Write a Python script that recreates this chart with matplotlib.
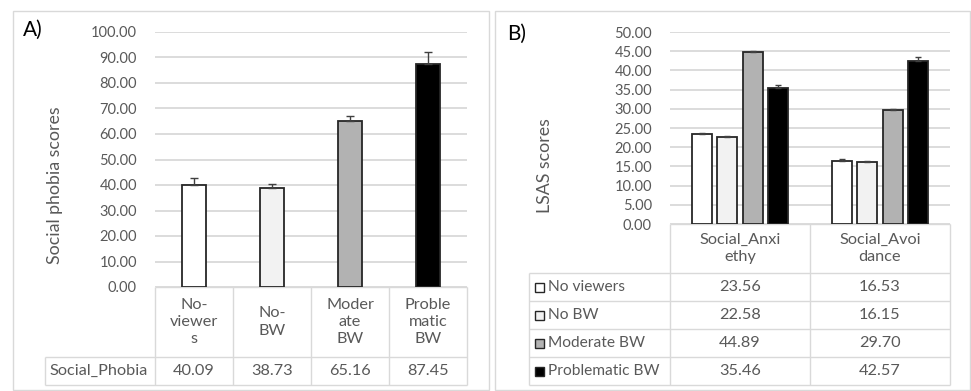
import matplotlib.pyplot as plt
from matplotlib.patches import Rectangle
import numpy as np

plt.rcParams['font.family'] = ['Lato', 'DejaVu Sans']

# Panel A: social phobia scores per viewing group
groups_a = ['No-\nviewer\ns', 'No-\nBW', 'Moder\nate\nBW', 'Proble\nmatic\nBW']
social_phobia = [40.09, 38.73, 65.16, 87.45]
social_phobia_err = [2.8, 1.7, 1.8, 4.7]

# Panel B: LSAS subscales per viewing group
subscales = ['Social_Anxi\nethy', 'Social_Avoi\ndance']
series_b = ['No viewers', 'No BW', 'Moderate BW', 'Problematic BW']
lsas_anxiety = [23.56, 22.58, 44.89, 35.46]
lsas_avoidance = [16.53, 16.15, 29.70, 42.57]
lsas_anxiety_err = [0.25, 0.25, 0.25, 0.75]
lsas_avoidance_err = [0.3, 0.2, 0.3, 0.85]

fills = ['#ffffff', '#f2f2f2', '#b2b2b2', '#000000']
edge = '#262626'
grid_c = '#d9d9d9'
text_c = '#595959'
fs = 10.5      # axis tick labels
fs_tab = 11.7  # data table text

W, H = 971, 391
fig = plt.figure(figsize=(W / 100, H / 100), dpi=100)

# overlay in pixel coords for frames and data tables
ov = fig.add_axes([0, 0, 1, 1])
ov.set_xlim(0, W)
ov.set_ylim(H, 0)
ov.axis('off')
ov.patch.set_visible(False)


def px_axes(l, t, r, b):
    return fig.add_axes([l / W, 1 - b / H, (r - l) / W, (b - t) / H])


def style(ax, ymax, step):
    ax.set_ylim(0, ymax)
    ax.set_yticks(np.arange(0, ymax + 0.01, step))
    ax.set_yticklabels([f'{v:.2f}' for v in ax.get_yticks()])
    ax.tick_params(axis='y', length=0, pad=13, labelsize=fs, labelcolor=text_c)
    ax.tick_params(axis='x', length=0, labelbottom=False)
    ax.grid(axis='y', color=grid_c, lw=1.3)
    ax.set_axisbelow(True)
    for s in ax.spines.values():
        s.set_visible(False)
    ax.patch.set_visible(False)


# panel frames
ov.add_patch(Rectangle((13, 11), 476, 379, fill=False, ec=grid_c, lw=1))
ov.add_patch(Rectangle((495, 11), 475, 379, fill=False, ec=grid_c, lw=1))

# ---- A ----
A_l, A_t, A_r, A_b = 155, 32, 467, 287
ax_a = px_axes(A_l, A_t, A_r, A_b)
xa = np.arange(len(groups_a))
ax_a.bar(xa, social_phobia, width=0.31, color=fills, edgecolor=edge, lw=1.3, zorder=3)
ax_a.errorbar(xa, social_phobia, yerr=[np.zeros(4), social_phobia_err], fmt='none',
              ecolor='#404040', elinewidth=1, capsize=3, capthick=1, zorder=4)
ax_a.set_xlim(-0.5, len(groups_a) - 0.5)
style(ax_a, 100, 10)

cols_a = np.linspace(A_l, A_r, len(groups_a) + 1)
ov.hlines(A_b, A_l, A_r, color=grid_c, lw=1)
ov.hlines([357, 385], 45, A_r, color=grid_c, lw=1)
ov.vlines(cols_a, A_b, 385, color=grid_c, lw=1)
ov.vlines(45, 357, 385, color=grid_c, lw=1)
for i, lab in enumerate(groups_a):
    cx = (cols_a[i] + cols_a[i + 1]) / 2
    ov.text(cx, 322, lab, ha='center', va='center', fontsize=fs_tab, color=text_c, linespacing=1.3)
    ov.text(cx, 371, f'{social_phobia[i]:.2f}', ha='center', va='center', fontsize=fs_tab, color=text_c)
ov.text(49, 371, 'Social_Phobia', ha='left', va='center', fontsize=fs_tab, color=text_c)

ov.text(55, 185, 'Social phobia scores', rotation=90, ha='center', va='center',
        fontsize=12.8, color=text_c)
ov.text(23, 30, 'A)', ha='left', va='center', fontsize=15, color='black')

# ---- B ----
B_l, B_t, B_r, B_b = 670, 32, 950, 224
ax_b = px_axes(B_l, B_t, B_r, B_b)
xb = np.arange(len(subscales))
slot = 0.179
for i in range(len(series_b)):
    vals = [lsas_anxiety[i], lsas_avoidance[i]]
    errs = [lsas_anxiety_err[i], lsas_avoidance_err[i]]
    pos = xb + (i - 1.5) * slot
    ax_b.bar(pos, vals, width=0.143, color=fills[i], edgecolor=edge, lw=1.3, zorder=3)
    ax_b.errorbar(pos, vals, yerr=[np.zeros(2), errs], fmt='none', ecolor='#404040',
                  elinewidth=1, capsize=2.5, capthick=1, zorder=4)
ax_b.set_xlim(-0.5, len(subscales) - 0.5)
style(ax_b, 50, 5)

cols_b = np.linspace(B_l, B_r, len(subscales) + 1)
rows_b = [273, 301, 329, 357, 385]
ov.hlines(B_b, B_l, B_r, color=grid_c, lw=1)
ov.hlines(rows_b, 529, B_r, color=grid_c, lw=1)
ov.vlines(cols_b, B_b, 385, color=grid_c, lw=1)
ov.vlines(529, 273, 385, color=grid_c, lw=1)
for j, lab in enumerate(subscales):
    cx = (cols_b[j] + cols_b[j + 1]) / 2
    ov.text(cx, 248.5, lab, ha='center', va='center', fontsize=fs_tab, color=text_c, linespacing=1.3)
for i, name in enumerate(series_b):
    cy = (rows_b[i] + rows_b[i + 1]) / 2
    ov.add_patch(Rectangle((535, cy - 4.5), 9, 9, fc=fills[i], ec=edge, lw=1))
    ov.text(548, cy, name, ha='left', va='center', fontsize=fs_tab - 0.5, color=text_c)
    for j, vals in enumerate([lsas_anxiety, lsas_avoidance]):
        cx = (cols_b[j] + cols_b[j + 1]) / 2
        ov.text(cx, cy, f'{vals[i]:.2f}', ha='center', va='center', fontsize=fs_tab, color=text_c)

ov.text(545, 166, 'LSAS scores', rotation=90, ha='center', va='center',
        fontsize=12.8, color=text_c)
ov.text(507, 34, 'B)', ha='left', va='center', fontsize=15, color='black')

fig.savefig('out.png', dpi=100, facecolor='white')
